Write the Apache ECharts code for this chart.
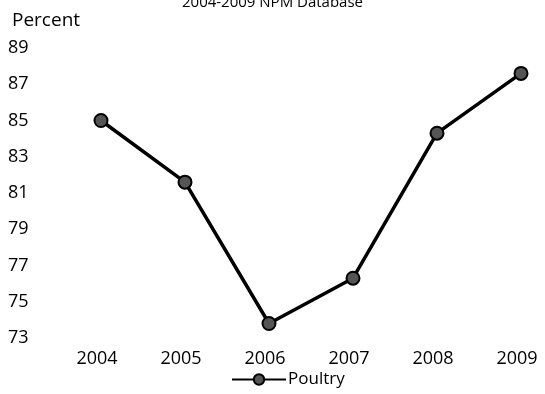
<!DOCTYPE html>
<html>
<head>
    <meta charset="utf-8">
    <title>Poultry</title>
    <script type="text/javascript" src="https://cdn.jsdelivr.net/npm/echarts@6/dist/echarts.min.js"></script>
    <style>
        html, body { margin: 0; padding: 0; background: #fff; }
    </style>
</head>
<body>
<div id="main" style="width:545px;height:394px;"></div>

<script type="text/javascript">
    // data
    var years = ['2004', '2005', '2006', '2007', '2008', '2009'];
    var poultry = [85.0, 81.6, 73.8, 76.3, 84.3, 87.6];
    var yTicks = [73, 89, 2]; // min, max, step

    var myChart = echarts.init(document.getElementById('main'));
    var font = '"Open Sans", sans-serif';

    var option = {
        animation: false,
        backgroundColor: '#fff',
        title: [{
            text: '2004-2009 NPM Database',
            left: 'center',
            top: -10,
            textStyle: { fontFamily: font, fontSize: 15, fontWeight: 'normal', color: '#000' }
        }, {
            text: 'Percent',
            left: 7,
            top: 6,
            textStyle: { fontFamily: font, fontSize: 19, fontWeight: 'normal', color: '#000' }
        }],
        legend: {
            data: ['Poultry'],
            bottom: 1,
            left: 226,
            itemWidth: 54,
            itemHeight: 13,
            itemGap: 2,
            textStyle: { fontFamily: font, fontSize: 17, color: '#000', padding: [0, 0, 0, -3] }
        },
        grid: { left: 101, right: 24, top: 48, bottom: 56 },
        xAxis: {
            type: 'category',
            data: years,
            boundaryGap: false,
            axisLine: { show: false },
            axisTick: { show: false },
            axisLabel: { fontFamily: font, fontSize: 18, color: '#000', margin: 12, padding: [0, 8, 0, 0] }
        },
        yAxis: {
            type: 'value',
            min: yTicks[0],
            max: yTicks[1],
            interval: yTicks[2],
            splitLine: { show: false },
            axisLine: { show: false },
            axisTick: { show: false },
            axisLabel: { fontFamily: font, fontSize: 18, color: '#000', align: 'left', margin: 93 }
        },
        series: [{
            name: 'Poultry',
            type: 'line',
            data: poultry,
            symbol: 'circle',
            symbolSize: 13,
            lineStyle: { color: '#000', width: 3.5 },
            itemStyle: { color: '#555', borderColor: '#000', borderWidth: 2 }
        }]
    };
    myChart.setOption(option);
</script>
</body>
</html>
